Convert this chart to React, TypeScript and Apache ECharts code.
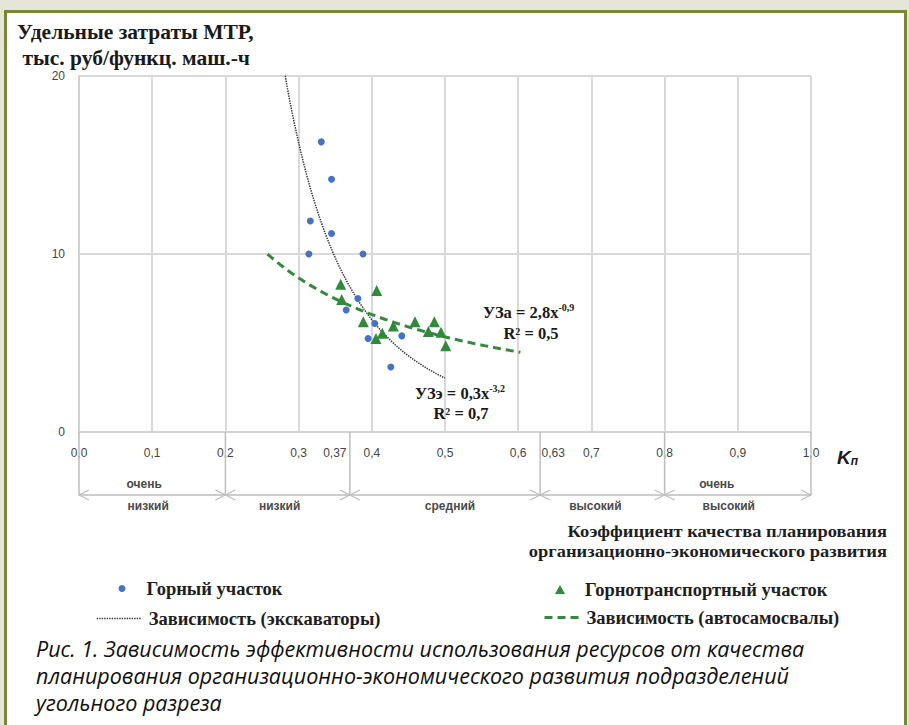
import { useEffect, useRef } from 'react';
import * as echarts from 'echarts';

// Горный участок (экскаваторы): коэффициент Kп и удельные затраты МТР
const miningKp = [0.331, 0.345, 0.316, 0.345, 0.314, 0.388, 0.381, 0.365, 0.404, 0.395, 0.441, 0.426];
const miningCost = [16.3, 14.2, 11.85, 11.15, 10.0, 10.0, 7.5, 6.85, 6.1, 5.25, 5.4, 3.65];

// Горнотранспортный участок (автосамосвалы)
const transportKp = [0.3575, 0.4067, 0.3589, 0.3884, 0.4294, 0.459, 0.4854, 0.4772, 0.4945, 0.501, 0.4144, 0.4057];
const transportCost = [8.3, 7.95, 7.45, 6.2, 5.95, 6.2, 6.2, 5.65, 5.6, 4.85, 5.55, 5.25];

// Kп ranges over which the power trend lines are drawn
const excavatorTrendRange = [0.21, 0.5];
const truckTrendRange = [0.2575, 0.603];

// Planning quality zones along Kп
const zoneBounds = [0, 0.2, 0.37, 0.63, 0.8, 1.0];
const zoneTop = ['очень', '', '', '', 'очень'];
const zoneBottom = ['низкий', 'низкий', 'средний', 'высокий', 'высокий'];
const zoneTicks = [0.37, 0.63];

const NAME_MINING = 'Горный участок';
const NAME_TRANSPORT = 'Горнотранспортный участок';
const NAME_EXC = 'Зависимость (экскаваторы)';
const NAME_TRUCK = 'Зависимость (автосамосвалы)';

const SERIF = '"Liberation Serif", "Times New Roman", serif';
const SANS = '"Liberation Sans", Arial, sans-serif';
const CAPTION_FONT = '"Open Sans", "Noto Sans", sans-serif';

// Least-squares power fit y = a * x^b on log-log scale
function powerFit(xs: number[], ys: number[]) {
  const n = xs.length;
  let sx = 0, sy = 0, sxx = 0, sxy = 0;
  for (let i = 0; i < n; i++) {
    const lx = Math.log(xs[i]);
    const ly = Math.log(ys[i]);
    sx += lx; sy += ly; sxx += lx * lx; sxy += lx * ly;
  }
  const b = (n * sxy - sx * sy) / (n * sxx - sx * sx);
  const a = Math.exp((sy - b * sx) / n);
  return { a, b };
}

function trendCurve(xs: number[], ys: number[], range: number[]) {
  const { a, b } = powerFit(xs, ys);
  const steps = 120;
  const pts: number[][] = [];
  for (let i = 0; i <= steps; i++) {
    const x = range[0] + ((range[1] - range[0]) * i) / steps;
    pts.push([x, a * Math.pow(x, b)]);
  }
  return pts;
}

const commaNum = (v: number, d: number) => v.toFixed(d).replace('.', ',');

export default function App() {
  const ref = useRef<HTMLDivElement>(null);

  useEffect(() => {
    if (!ref.current) return;
    const chart = echarts.init(ref.current, undefined, { renderer: 'svg' });

    const legendText = {
      fontFamily: SERIF,
      fontWeight: 'bold' as const,
      fontSize: 18.5,
      lineHeight: 18,
      color: '#1e1e1e',
    };

    const eqRich = {
      n: { fontFamily: SERIF, fontWeight: 'bold', fontSize: 16.5, lineHeight: 19, fill: '#1a1a1a' },
      s: { fontFamily: SERIF, fontWeight: 'bold', fontSize: 10, lineHeight: 10, fill: '#1a1a1a', verticalAlign: 'top' },
    };

    const axisTitleStyle = { x: 0, y: 0, align: 'right', verticalAlign: 'middle', fontFamily: SERIF, fontWeight: 'bold', fontSize: 16.5, fill: '#1e1e1e' };
    const captionStyle = { x: 0, y: 0, align: 'left', verticalAlign: 'middle', fontFamily: CAPTION_FONT, fontStyle: 'italic', fontSize: 21.5, fill: '#111' };

    const upperShift = [-8, 0, 0, 0, -21];
    const lowerShift = [-4, -8, 5, -7, -9];

    const option: any = {
      animation: false,
      backgroundColor: '#e5e5d8',
      title: {
        text: 'Удельные затраты МТР,\n тыс. руб/функц. маш.-ч',
        left: 17,
        top: 19,
        padding: 0,
        textStyle: {
          fontFamily: SERIF,
          fontWeight: 'bold',
          fontSize: 21.5,
          lineHeight: 26,
          color: '#1a1a1a',
        },
      },
      grid: { left: 79, right: 98, top: 76, bottom: 293, containLabel: false },
      xAxis: [
        {
          type: 'value',
          min: 0,
          max: 1,
          interval: 0.1,
          axisLine: { show: true, lineStyle: { color: '#d2d2d2', width: 2 } },
          axisTick: { show: false },
          splitLine: { show: true, lineStyle: { color: '#d9d9d9', width: 2 } },
          axisLabel: {
            margin: 15,
            fontFamily: SANS,
            fontSize: 12,
            color: '#454545',
            formatter: (v: number) => commaNum(v, 1),
          },
          name: '{k|K}{s|п}',
          nameLocation: 'end',
          nameGap: 26,
          nameTextStyle: {
            verticalAlign: 'top',
            padding: [16, 0, 0, 0],
            rich: {
              k: { fontFamily: SANS, fontWeight: 'bold', fontStyle: 'italic', fontSize: 19, color: '#1a1a1a' },
              s: { fontFamily: SANS, fontWeight: 'bold', fontStyle: 'italic', fontSize: 12, color: '#1a1a1a', verticalAlign: 'bottom' },
            },
          },
        },
        {
          type: 'value',
          min: 0,
          max: 1,
          position: 'bottom',
          axisLine: { show: false },
          axisTick: { show: false },
          splitLine: { show: false },
          axisLabel: {
            margin: 15,
            customValues: zoneTicks,
            fontFamily: SANS,
            fontSize: 12,
            color: '#454545',
            formatter: (v: number) =>
              v < 0.5 ? `{r|${commaNum(v, 2)}}` : `{l|${commaNum(v, 2)}}`,
            rich: {
              r: { fontFamily: SANS, fontSize: 12, color: '#454545', padding: [0, 30, 0, 0] },
              l: { fontFamily: SANS, fontSize: 12, color: '#454545', padding: [0, 0, 0, 26] },
            },
          },
        },
      ],
      yAxis: {
        type: 'value',
        min: 0,
        max: 20,
        interval: 10,
        axisLine: { show: true, lineStyle: { color: '#d2d2d2', width: 2 } },
        axisTick: { show: false },
        splitLine: { show: true, lineStyle: { color: '#d9d9d9', width: 2 } },
        axisLabel: { margin: 14, fontFamily: SANS, fontSize: 12, color: '#454545' },
      },
      legend: [
        {
          data: [{ name: NAME_MINING, icon: 'circle' }],
          left: 118.5,
          top: 579,
          padding: 0,
          itemWidth: 7,
          itemHeight: 7,
          selectedMode: false,
          textStyle: { ...legendText, padding: [0, 0, 0, 16] },
        },
        {
          data: [{ name: NAME_EXC, itemStyle: { opacity: 0 } }],
          left: 96,
          top: 609,
          padding: 0,
          itemWidth: 44,
          itemHeight: 2,
          selectedMode: false,
          lineStyle: { width: 1.4 },
          textStyle: { ...legendText, padding: [0, 0, 0, 3] },
        },
        {
          data: [{ name: NAME_TRANSPORT, icon: 'triangle' }],
          left: 555,
          top: 580,
          padding: 0,
          itemWidth: 10,
          itemHeight: 9,
          selectedMode: false,
          textStyle: { ...legendText, padding: [0, 0, 0, 15] },
        },
        {
          data: [{ name: NAME_TRUCK, itemStyle: { opacity: 0 } }],
          left: 543,
          top: 608,
          padding: 0,
          itemWidth: 37,
          itemHeight: 2,
          selectedMode: false,
          lineStyle: { width: 3 },
          textStyle: { ...legendText },
        },
      ],
      series: [
        {
          name: NAME_EXC,
          type: 'line',
          data: trendCurve(miningKp, miningCost, excavatorTrendRange),
          symbol: 'none',
          clip: true,
          z: 3,
          itemStyle: { color: '#333333' },
          lineStyle: { color: '#333333', width: 1.5, type: [1.4, 1.1] },
        },
        {
          name: NAME_TRUCK,
          type: 'line',
          data: trendCurve(transportKp, transportCost, truckTrendRange),
          symbol: 'none',
          clip: true,
          z: 3,
          itemStyle: { color: '#34893c' },
          lineStyle: { color: '#34893c', width: 3, type: [8, 5] },
        },
        {
          name: NAME_MINING,
          type: 'scatter',
          data: miningKp.map((x, i) => [x, miningCost[i]]),
          symbol: 'circle',
          symbolSize: 7,
          z: 4,
          itemStyle: { color: '#4472c4', opacity: 1 },
        },
        {
          name: NAME_TRANSPORT,
          type: 'scatter',
          data: transportKp.map((x, i) => [x, transportCost[i]]),
          symbol: 'triangle',
          symbolSize: 11,
          z: 5,
          itemStyle: { color: '#2f8a3a', opacity: 1 },
        },
        {
          name: 'zones',
          type: 'custom',
          silent: true,
          clip: false,
          encode: { x: [0, 1], y: 2 },
          data: zoneBounds.slice(0, -1).map((b, i) => [b, zoneBounds[i + 1], 0]),
          renderItem: (params: any, api: any) => {
            const i = params.dataIndex;
            const s = api.coord([api.value(0), 0]);
            const e = api.coord([api.value(1), 0]);
            const y0 = s[1];
            const ay = y0 + 63;
            const ah = 10;
            const aw = 5;
            const stroke = '#bdbdbd';
            const children: any[] = [
              { type: 'line', shape: { x1: s[0], y1: y0, x2: s[0], y2: ay }, style: { stroke, lineWidth: 1.5 } },
              { type: 'line', shape: { x1: s[0], y1: ay, x2: e[0], y2: ay }, style: { stroke, lineWidth: 1.5 } },
              { type: 'polyline', shape: { points: [[s[0] + ah, ay - aw], [s[0], ay], [s[0] + ah, ay + aw]] }, style: { stroke, lineWidth: 1.2, fill: null } },
              { type: 'polyline', shape: { points: [[e[0] - ah, ay - aw], [e[0], ay], [e[0] - ah, ay + aw]] }, style: { stroke, lineWidth: 1.2, fill: null } },
            ];
            if (i === zoneBounds.length - 2) {
              children.push({ type: 'line', shape: { x1: e[0], y1: y0, x2: e[0], y2: ay }, style: { stroke, lineWidth: 1.5 } });
            }
            const cx = (s[0] + e[0]) / 2;
            const labelStyle = { fontFamily: SANS, fontWeight: 'bold', fontSize: 12, fill: '#4a4a4a', align: 'center', verticalAlign: 'middle' };
            if (zoneTop[i]) {
              children.push({ type: 'text', style: { ...labelStyle, text: zoneTop[i], x: cx + upperShift[i], y: ay - 11 } });
            }
            children.push({ type: 'text', style: { ...labelStyle, text: zoneBottom[i], x: cx + lowerShift[i], y: ay + 11 } });
            return { type: 'group', children };
          },
        },
      ],
      graphic: [
        {
          type: 'rect',
          z: -10,
          silent: true,
          shape: { x: 5.5, y: 11.5, width: 900, height: 760 },
          style: { fill: '#ffffff', stroke: '#77873c', lineWidth: 3 },
        },
        {
          type: 'text',
          z: 10,
          style: { x: 483, y: 312, align: 'left', verticalAlign: 'middle', text: '{n|УЗа = 2,8x}{s|-0,9}', rich: eqRich },
        },
        {
          type: 'text',
          z: 10,
          style: { x: 531, y: 333, align: 'center', verticalAlign: 'middle', text: 'R² = 0,5', fontFamily: SERIF, fontWeight: 'bold', fontSize: 16.5, fill: '#1a1a1a' },
        },
        {
          type: 'text',
          z: 10,
          style: { x: 415, y: 393, align: 'left', verticalAlign: 'middle', text: '{n|УЗэ = 0,3x}{s|-3,2}', rich: eqRich },
        },
        {
          type: 'text',
          z: 10,
          style: { x: 461, y: 413, align: 'center', verticalAlign: 'middle', text: 'R² = 0,7', fontFamily: SERIF, fontWeight: 'bold', fontSize: 16.5, fill: '#1a1a1a' },
        },
        {
          type: 'text',
          z: 10,
          x: 887,
          y: 531,
          scaleX: 1.12,
          style: { ...axisTitleStyle, text: 'Коэффициент качества планирования' },
        },
        {
          type: 'text',
          z: 10,
          x: 887,
          y: 551,
          scaleX: 1.12,
          style: { ...axisTitleStyle, text: 'организационно-экономического развития' },
        },
        {
          type: 'text',
          z: 10,
          x: 36,
          y: 648,
          style: { ...captionStyle, text: 'Рис. 1. Зависимость эффективности использования ресурсов от качества' },
        },
        {
          type: 'text',
          z: 10,
          x: 36,
          y: 675,
          style: { ...captionStyle, text: 'планирования организационно-экономического развития подразделений' },
        },
        {
          type: 'text',
          z: 10,
          x: 36,
          y: 702,
          style: { ...captionStyle, text: 'угольного разреза' },
        },
      ],
    };

    chart.setOption(option);
    return () => chart.dispose();
  }, []);

  return (
    <div style={{ position: 'fixed', left: 0, top: 0, width: 909, height: 725 }}>
      <div ref={ref} style={{ width: 909, height: 725 }} />
    </div>
  );
}
